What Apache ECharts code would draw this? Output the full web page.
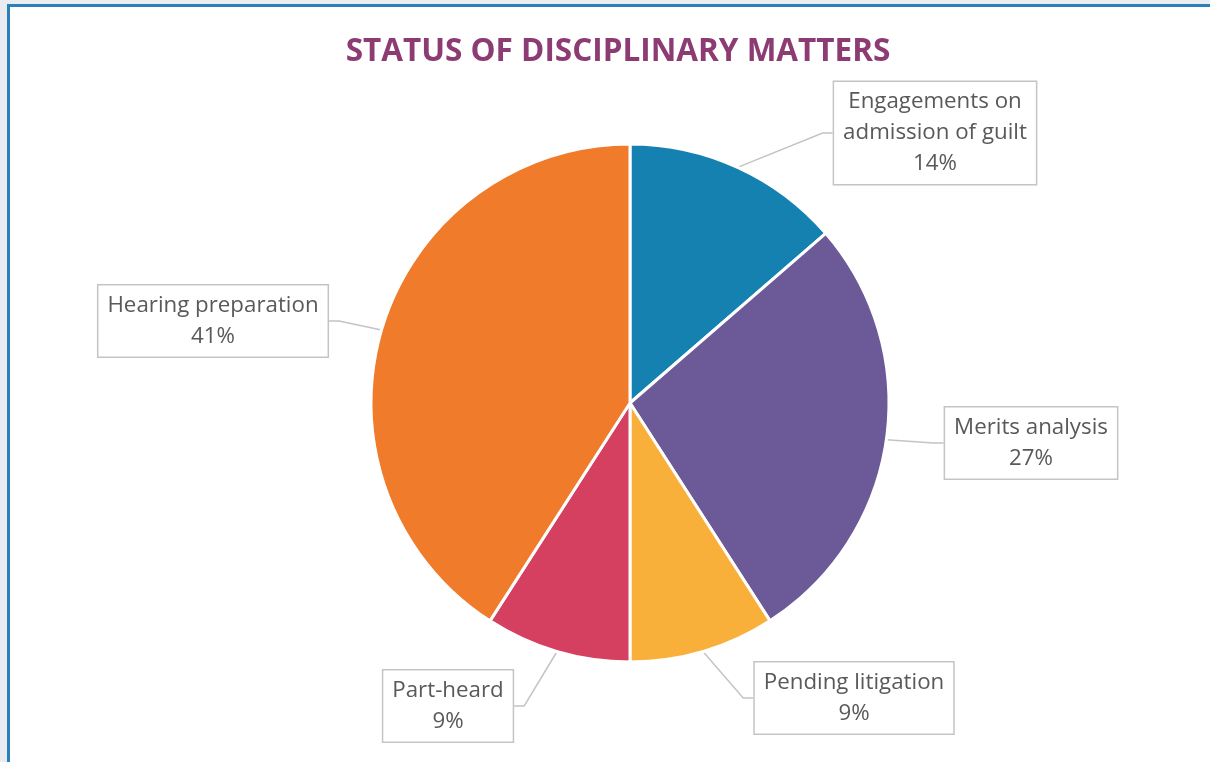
<!DOCTYPE html>
<html>
<head>
<meta charset="utf-8">
<script src="https://cdn.jsdelivr.net/npm/echarts@6/dist/echarts.min.js"></script>
<style>
  html, body { margin: 0; padding: 0; background: #e9ecf0; overflow: hidden; }
  #frame { position: absolute; left: 7px; top: 4px; width: 1300px; height: 900px;
           background: #fff; border-left: 3px solid #2a80b9; border-top: 3px solid #2a80b9; }
  #chart { position: absolute; left: 0; top: 0; width: 1210px; height: 762px; }
</style>
</head>
<body>
<div id="frame"></div>
<div id="chart"></div>
<script>
const titleText = 'STATUS OF DISCIPLINARY MATTERS';
const categories = ['Engagements on\nadmission of guilt', 'Merits analysis', 'Pending litigation', 'Part-heard', 'Hearing preparation'];
const values = [15, 30, 10, 10, 45];
const colors = ['#1581b0', '#6b5a97', '#f9b03a', '#d53f60', '#f07b2b'];

// label box centres (layout only)
const labelPos = [[935, 133], [1031, 443], [854, 698], [448, 706], [213, 321]];

const chart = echarts.init(document.getElementById('chart'), null, { renderer: 'canvas' });
chart.setOption({
  backgroundColor: 'transparent',
  animation: false,
  title: {
    text: titleText,
    left: 613, top: 31, textAlign: 'center',
    textStyle: { color: '#8c3b73', fontSize: 31.5, fontWeight: 'bold', fontFamily: 'Open Sans' }
  },
  series: [{
    type: 'pie',
    center: [630, 403],
    radius: 259,
    startAngle: 90,
    clockwise: true,
    percentPrecision: 0,
    data: categories.map((c, i) => ({ name: c, value: values[i], itemStyle: { color: colors[i] } })),
    itemStyle: { borderColor: '#fff', borderWidth: 3 },
    label: {
      show: true,
      position: 'outside',
      formatter: '{b}\n{d}%',
      fontFamily: 'Open Sans',
      fontSize: 22.3,
      lineHeight: 31,
      color: '#595959',
      align: 'center',
      backgroundColor: '#fff',
      borderColor: '#c4c4c4',
      borderWidth: 1.5,
      padding: [7, 9, 2, 9]
    },
    labelLine: { show: true, length: 20, length2: 10, lineStyle: { color: '#c4c4c4', width: 1.5 } },
    labelLayout: function (p) {
      const pos = labelPos[p.dataIndex];
      return { x: pos[0], y: pos[1], align: 'center', verticalAlign: 'middle', hideOverlap: false };
    },
    emphasis: { disabled: true }
  }]
});
</script>
</body>
</html>
